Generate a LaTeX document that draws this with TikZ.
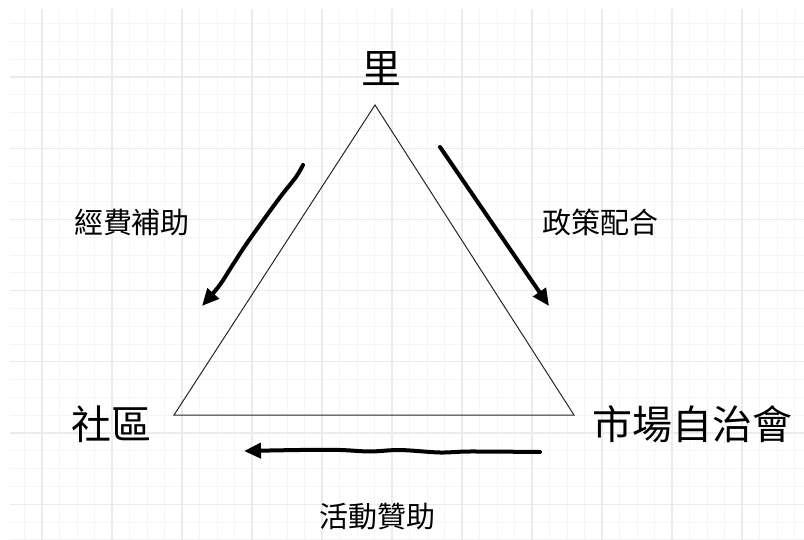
\documentclass[tikz,border=0pt]{standalone}
\usepackage{fontspec}
\newfontfamily\cjk{Noto Sans CJK TC}
\usetikzlibrary{arrows.meta}
\begin{document}
\begin{tikzpicture}[x=1pt,y=-1pt,
  minorgrid/.style={draw=black!4,line width=0.8pt},
  majorgrid/.style={draw=black!8,line width=1.2pt},
  bigtext/.style={font=\cjk\fontsize{40}{44}\selectfont,inner sep=0pt},
  smalltext/.style={font=\cjk\fontsize{29}{32}\selectfont,inner sep=0pt},
  tri/.style={draw=black!85,line width=1pt},
  flow/.style={draw=black,line width=4pt,line cap=round,line join=round,-{Triangle[length=17pt,width=15pt]}}]
\useasboundingbox (0,0) rectangle (804,540);
\fill[white] (0,0) rectangle (804,540);
% grid
\foreach \i in {0,...,44} {
  \pgfmathsetmacro\gx{24.5+17.5*\i}
  \draw[minorgrid] (\gx,9) -- (\gx,540);
}
\foreach \i in {0,...,29} {
  \pgfmathsetmacro\gy{23.6+17.8*\i}
  \draw[minorgrid] (10,\gy) -- (804,\gy);
}
\foreach \i in {0,...,10} {
  \pgfmathsetmacro\gx{42+70*\i}
  \draw[majorgrid] (\gx,9) -- (\gx,540);
}
\foreach \i in {0,...,6} {
  \pgfmathsetmacro\gy{77+71.2*\i}
  \draw[majorgrid] (10,\gy) -- (804,\gy);
}
% triangle
\coordinate (top) at (375,105);
\coordinate (bl) at (174,415);
\coordinate (br) at (574,415);
\draw[tri] (top) -- (bl) -- (br) -- cycle;
% labels
\node[bigtext] (li) at (381,69) {里};
\node[bigtext] (shequ) at (111,424) {社區};
\node[bigtext] (shichang) at (692,424) {市場自治會};
\node[smalltext] (jingfei) at (132,222) {經費補助};
\node[smalltext] (zhengce) at (600,222) {政策配合};
\node[smalltext] (huodong) at (377,517) {活動贊助};
% arrows
\coordinate (a1s) at (303,165);
\coordinate (a1e) at (202,306);
\coordinate (a2s) at (440,147);
\coordinate (a2e) at (549,306);
\coordinate (a3s) at (540,452);
\coordinate (a3e) at (244,451);
\draw[flow] plot[smooth,tension=0.6] coordinates {(a1s) (296,177) (281,196) (262,222) (245,246) (232,266) (219,286) (a1e)};
\draw[flow] (a2s) -- (a2e);
\draw[flow] plot[smooth,tension=0.5] coordinates {(a3s) (470,451.5) (440,452.5) (400,450) (370,451.5) (340,450) (300,450) (a3e)};
\end{tikzpicture}
\end{document}
